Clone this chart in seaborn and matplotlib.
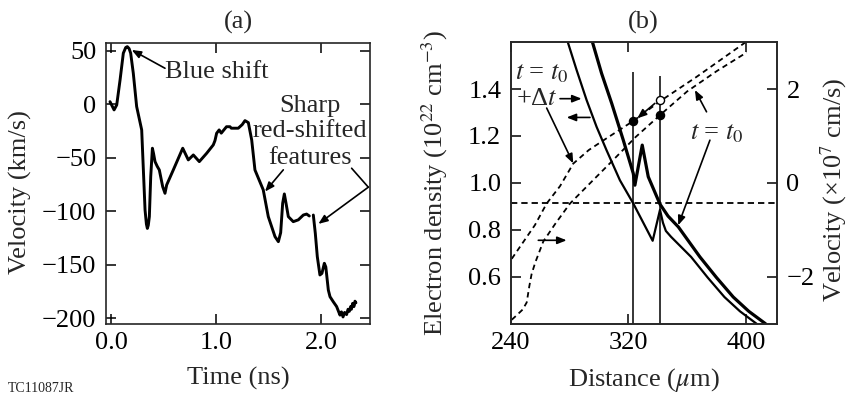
import matplotlib
matplotlib.use("Agg")
import matplotlib.pyplot as plt
import numpy as np
import pandas as pd
import seaborn as sns

# ---------------- (a) Doppler velocity history ----------------
time_early = [-0.01, 0.029, 0.054, 0.086, 0.117, 0.14, 0.155, 0.172, 0.187, 0.212, 0.244,
              0.292, 0.308, 0.324, 0.337, 0.346, 0.355, 0.365, 0.378, 0.394, 0.405, 0.419,
              0.44, 0.46, 0.492, 0.514, 0.53, 0.593, 0.683, 0.736, 0.784, 0.841, 0.911,
              0.974, 0.99, 1.006, 1.03, 1.05, 1.10, 1.133, 1.146, 1.212, 1.25, 1.276,
              1.308, 1.34, 1.371, 1.45, 1.498, 1.562, 1.594, 1.616, 1.635, 1.651, 1.667,
              1.689, 1.736, 1.784, 1.832, 1.863, 1.889]
vel_early = [2.4, -5.3, -0.7, 22.7, 47.7, 53.0, 53.8, 52.0, 47.7, 29.0, -2.2,
             -24.0, -61.4, -98.8, -112.0, -116.0, -113.0, -105.0, -67.7, -41.1, -46.0, -53.6,
             -58.0, -61.4, -77.0, -83.2, -75.4, -61.4, -41.1, -52.0, -47.4, -53.6, -45.8,
             -38.0, -34.0, -27.1, -24.0, -27.0, -21.0, -21.0, -22.4, -22.4, -19.0, -15.3,
             -17.2, -33.4, -61.4, -80.0, -105.0, -123.7, -128.4, -120.0, -92.5, -83.8, -92.5,
             -105.0, -109.7, -108.0, -103.5, -102.6, -104.4]
time_late = [1.927, 1.946, 1.965, 1.99, 2.009, 2.032, 2.046, 2.07, 2.086, 2.117, 2.149,
             2.165, 2.181, 2.195, 2.21, 2.225, 2.244, 2.258, 2.27, 2.283, 2.29, 2.302,
             2.314, 2.324, 2.333]
vel_late = [-103.5, -120.6, -142.4, -159.5, -158.0, -148.6, -152.0, -173.6, -179.8, -184.5, -189.0,
            -193.0, -197.0, -194.0, -198.7, -194.5, -196.5, -191.5, -193.5, -189.0, -191.5, -186.0,
            -189.0, -184.0, -185.5]

# ---------------- (b) density and velocity profiles ----------------
# electron density (10^22 cm^-3), profile at t0 + dt (thin) and t0 (thick)
dist_dens_later = [278.6, 284.7, 291.5, 298.3, 305.1, 314.2, 323.3, 336.5, 341.5, 343.5,
                   345.5, 349.0, 362.7, 374.0, 385.4, 396.0, 407.3]
dens_later = [1.602, 1.481, 1.353, 1.239, 1.139, 1.011, 0.912, 0.753, 0.885, 0.83,
              0.795, 0.77, 0.684, 0.596, 0.513, 0.452, 0.399]
dist_dens_t0 = [295.4, 301.7, 308.6, 316.5, 323.3, 324.4, 329.4, 333.5, 341.5, 347.0,
                354.0, 368.7, 380.0, 391.4, 402.0, 413.4]
dens_t0 = [1.602, 1.467, 1.339, 1.182, 1.04, 0.99, 1.161, 1.026, 0.909, 0.858,
           0.812, 0.684, 0.596, 0.513, 0.452, 0.399]
# flow velocity (10^7 cm/s)
dist_vel_later = [240.5, 248.4, 256.3, 264.3, 273.4, 282.4, 293.0, 305.1, 323.3, 341.5,
                  366.4, 399.4]
vel_later = [-1.62, -1.26, -0.90, -0.44, -0.07, 0.41, 0.70, 0.95, 1.32, 1.74,
             2.26, 2.99]
dist_vel_t0 = [240.5, 244.0, 248.0, 250.7, 252.5, 254.0, 256.5, 262.0, 270.0, 280.2,
               293.8, 309.7, 325.0, 341.7, 360.0, 380.0, 400.5]
vel_t0 = [-2.92, -2.82, -2.70, -2.55, -2.20, -1.95, -1.70, -1.25, -0.88, -0.44,
          -0.01, 0.49, 0.98, 1.45, 1.95, 2.38, 2.78]
critical_density = 0.912
front_positions = [323.3, 341.7]
front_tops = [1.474, 1.456]
front_vel_filled = [1.31, 1.45]
front_vel_open = [1.76]

serif = ["Liberation Serif", "DejaVu Serif"]
sns.set_style("ticks")
plt.rcParams["font.family"] = serif
plt.rcParams["mathtext.fontset"] = "stix"
plt.rcParams["axes.linewidth"] = 1.2
FS = 19

fig = plt.figure(figsize=(8.49, 3.94), dpi=100)
W, H = 849.0, 394.0


def box(l, t, r, b):
    return [l / W, 1 - b / H, (r - l) / W, (b - t) / H]


def style_ticks(ax, **kw):
    ax.tick_params(direction="in", length=7.5, width=1.1, labelsize=FS, colors="black",
                   **kw)


# ---------- panel (a) ----------
axa = fig.add_axes(box(106, 43, 370, 324))
df_a = pd.concat([
    pd.DataFrame({"t": time_early, "v": vel_early, "seg": 0}),
    pd.DataFrame({"t": time_late, "v": vel_late, "seg": 1}),
])
sns.lineplot(data=df_a, x="t", y="v", units="seg", estimator=None, sort=False,
             color="black", lw=2.1, ax=axa, legend=False)
axa.set_xlim(-0.048, 2.467)
axa.set_ylim(-205.3, 57.2)
axa.set_xticks([0.0, 1.0, 2.0])
axa.set_xticklabels(["0.0", "1.0", "2.0"])
axa.set_yticks([50, 0, -50, -100, -150, -200])
axa.set_yticklabels(["50", "0", "\u221250", "\u2212100", "\u2212150", "\u2212200"])
style_ticks(axa, top=True, right=True)
axa.tick_params(axis="y", pad=7)
axa.tick_params(axis="x", pad=6)
axa.set_xlabel("")
axa.set_ylabel("")
for s in axa.spines.values():
    s.set_visible(True)
    s.set_linewidth(1.2)

arr = dict(arrowstyle="-|>,head_length=0.55,head_width=0.22", color="black", lw=1.2,
           shrinkA=0, shrinkB=0)
axa.annotate("", xy=(0.197, 50.7), xytext=(0.514, 33.6), arrowprops=arr)
axa.text(1.01, 30.5, "Blue shift", fontsize=FS, ha="center", va="center")
axa.text(1.895, -1.6, "Sharp", fontsize=FS, ha="center", va="center")
axa.text(1.895, -24.9, "red-shifted", fontsize=FS, ha="center", va="center")
axa.text(1.895, -50.1, "features", fontsize=FS, ha="center", va="center")
axa.annotate("", xy=(1.467, -81.6), xytext=(1.641, -61.3), arrowprops=arr)
axa.plot([2.292, 2.451], [-59.8, -77.5], color="black", lw=1.2)
axa.annotate("", xy=(1.975, -111.8), xytext=(2.451, -77.5), arrowprops=arr)

fig.text(238 / W, 1 - 22.7 / H, "(a)", fontsize=FS, ha="center", va="center")
fig.text(238 / W, 1 - 378 / H, "Time (ns)", fontsize=FS, ha="center", va="center")
fig.text(20 / W, 1 - 192 / H, "Velocity (km/s)", fontsize=FS, ha="center",
         va="center", rotation=90)
fig.text(8 / W, 1 - 382 / H, "TC11087JR", fontsize=10, ha="left", va="top")

# ---------- panel (b) ----------
axb = fig.add_axes(box(511, 41.7, 776.7, 324))
axv = axb.twinx()

df_thin = pd.DataFrame({"x": dist_dens_later, "n": dens_later})
df_thick = pd.DataFrame({"x": dist_dens_t0, "n": dens_t0})
sns.lineplot(data=df_thin, x="x", y="n", sort=False, color="black", lw=1.6, ax=axb)
sns.lineplot(data=df_thick, x="x", y="n", sort=False, color="black", lw=2.3, ax=axb)
axb.axhline(critical_density, color="black", lw=1.3, ls=(0, (3.5, 2.2)))
axb.vlines(front_positions, 0.3, front_tops, color="black", lw=1.1)

df_vl = pd.DataFrame({"x": dist_vel_later, "v": vel_later})
df_v0 = pd.DataFrame({"x": dist_vel_t0, "v": vel_t0})
sns.lineplot(data=df_vl, x="x", y="v", sort=False, color="black", lw=1.3, ax=axv)
sns.lineplot(data=df_v0, x="x", y="v", sort=False, color="black", lw=1.3, ax=axv)
for ln in axv.lines:
    ln.set_linestyle((0, (3, 2.2)))

df_fill = pd.DataFrame({"x": front_positions, "v": front_vel_filled})
df_open = pd.DataFrame({"x": front_positions[1:], "v": front_vel_open})
sns.scatterplot(data=df_fill, x="x", y="v", color="black", s=34, edgecolor="black",
                linewidth=1.0, ax=axv, zorder=5)
sns.scatterplot(data=df_open, x="x", y="v", color="white", s=34, edgecolor="black",
                linewidth=1.0, ax=axv, zorder=5)

axb.set_xlim(240, 421)
axb.set_ylim(0.398, 1.602)
axv.set_ylim(-3.01, 3.01)
axb.set_xticks([240, 320, 400])
axb.set_yticks([0.6, 0.8, 1.0, 1.2, 1.4])
axb.set_yticklabels(["0.6", "0.8", "1.0", "1.2", "1.4"])
axv.set_yticks([-2, 0, 2])
axv.set_yticklabels(["\u22122", "0", "2"])
style_ticks(axb, top=True, right=False)
axb.tick_params(axis="y", pad=7)
axb.tick_params(axis="x", pad=6)
style_ticks(axv, left=False, right=True)
axv.tick_params(axis="y", pad=7)
for a in (axb, axv):
    a.set_xlabel("")
    a.set_ylabel("")
    for s in a.spines.values():
        s.set_visible(True)
        s.set_linewidth(1.2)

axb.text(242.7, 1.464, "$t$ = $t_0$", fontsize=FS, ha="left", va="center")
axb.text(243.5, 1.357, "+\u0394$t$", fontsize=FS, ha="left", va="center")
axb.annotate("", xy=(288.1, 1.359), xytext=(273.4, 1.359), arrowprops=arr)
axb.annotate("", xy=(277.9, 1.279), xytext=(293.8, 1.279), arrowprops=arr)
axb.annotate("", xy=(282.4, 1.083), xytext=(264.3, 1.319), arrowprops=arr)
axb.annotate("", xy=(277.9, 0.755), xytext=(258.6, 0.755), arrowprops=arr)
axb.annotate("", xy=(326.0, 1.275), xytext=(338.0, 1.339), arrowprops=arr)
axb.text(380.5, 1.211, "$t$ = $t_0$", fontsize=FS, ha="center", va="center")
axb.annotate("", xy=(365.3, 1.396), xytext=(373.2, 1.303), arrowprops=arr)
axb.annotate("", xy=(353.9, 0.819), xytext=(375.5, 1.182), arrowprops=arr)

fig.text(643.5 / W, 1 - 22.7 / H, "(b)", fontsize=FS, ha="center", va="center")
fig.text(643.5 / W, 1 - 380 / H, "Distance ($\\mu$m)", fontsize=FS, ha="center",
         va="center")
fig.text(435 / W, 1 - 183 / H, "Electron density (10$^{22}$ cm$^{-3}$)", fontsize=FS,
         ha="center", va="center", rotation=90)
fig.text(834 / W, 1 - 190 / H, "Velocity (\u00d710$^{7}$ cm/s)", fontsize=FS,
         ha="center", va="center", rotation=90)

fig.savefig("out.png", dpi=100)
